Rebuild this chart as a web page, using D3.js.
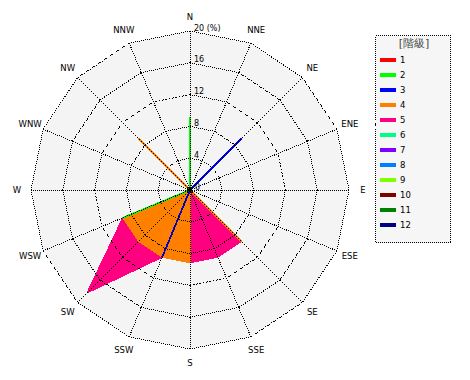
<!DOCTYPE html>
<html><head><meta charset="utf-8">
<script src="https://cdn.jsdelivr.net/npm/d3@7"></script>
<style>body{margin:0;background:#fff}svg{display:block}text{font-family:"DejaVu Sans",sans-serif}</style>
</head><body><script>
const directions = ["N","NNE","NE","ENE","E","ESE","SE","SSE","S","SSW","SW","WSW","W","WNW","NW","NNW"];
const classes = ["1","2","3","4","5","6","7","8","9","10","11","12"];
const classColors = ["#ff0000","#00ff00","#0000ff","#ff8000","#ff0080","#00ff80","#8000ff","#0080ff","#80ff00","#800000","#008000","#000080"];
const ringTicks = [4,8,12,16,20];
const tickLabels = ["4","8","12","16","20 (%)"];
// frequency (%) of each class, by direction (N, NNE, ... NNW)
const class1  = [0,0,0,0,0,0,0,0,0,0,0,0,0,0,0,0];
const class2  = [9.1,0,0,0,0,0,0,0,0,0,0,9.1,0,0,0,0];
const class3  = [0,0,9.1,0,0,0,0,0,0,9.1,0,0,0,0,0,0];
const class4  = [0,0,0,0,0,0,9.1,0,9.1,0,9.1,0,0,0,9.1,0];
const class5  = [0,0,0,0,0,0,0,9.1,0,0,9.1,0,0,0,0,0];
const class6  = [0,0,0,0,0,0,0,0,0,0,0,0,0,0,0,0];
const class7  = [0,0,0,0,0,0,0,0,0,0,0,0,0,0,0,0];
const class8  = [0,0,0,0,0,0,0,0,0,0,0,0,0,0,0,0];
const class9  = [0,0,0,0,0,0,0,0,0,0,0,0,0,0,0,0];
const class10 = [0,0,0,0,0,0,0,0,0,0,0,0,0,0,0,0];
const class11 = [0,0,0,0,0,0,0,0,0,0,0,0,0,0,0,0];
const class12 = [0,0,0,0,0,0,0,0,0,0,0,0,0,0,0,0];
const classValues = [class1,class2,class3,class4,class5,class6,class7,class8,class9,class10,class11,class12];

const W = 470, H = 380, cx = 190, cy = 190;
const svg = d3.select("body").append("svg").attr("width", W).attr("height", H);
const g = svg.append("g").attr("transform", `translate(${cx},${cy})`);

const r = d3.scaleLinear().domain([0, 20]).range([0, 159]);
const ang = d3.scaleLinear().domain([0, directions.length]).range([0, 2 * Math.PI]);

const table = directions.map((d, i) => {
  const row = {dir: d};
  classes.forEach((c, k) => row[c] = classValues[k][i]);
  return row;
});
const series = d3.stack().keys(classes)(table);

const radialLine = d3.lineRadial().angle((d, i) => ang(i)).radius(d => r(d)).curve(d3.curveLinearClosed);
const pt = (v, i) => [r(v) * Math.sin(ang(i)), -r(v) * Math.cos(ang(i))];

// background
g.append("path").attr("d", radialLine(directions.map(() => 20))).attr("fill", "#f4f4f4").attr("stroke", "none");

// data polygons (cumulative), highest class first
series.slice().reverse().forEach(s => {
  const k = classes.indexOf(s.key);
  g.append("path")
    .attr("d", radialLine(s.map(p => p[1])))
    .attr("fill", classColors[k])
    .attr("stroke", classColors[k])
    .attr("stroke-width", 1.8)
    .attr("stroke-linejoin", "round")
    .attr("shape-rendering", "crispEdges");
});

// dotted segment: one dot every other pixel along the major axis
function dotted(p1, p2) {
  const dx = p2[0] - p1[0], dy = p2[1] - p1[1], len = Math.hypot(dx, dy);
  const per = 2 * len / Math.max(Math.abs(dx), Math.abs(dy));
  g.append("line")
    .attr("x1", p1[0]).attr("y1", p1[1]).attr("x2", p2[0]).attr("y2", p2[1])
    .attr("stroke", "#000").attr("stroke-width", 1)
    .attr("stroke-dasharray", `${per / 2},${per / 2}`).attr("shape-rendering", "crispEdges");
}
// grid rings
ringTicks.forEach(t => {
  directions.forEach((d, i) => dotted(pt(t, i), pt(t, (i + 1) % directions.length)));
});
// spokes
directions.forEach((d, i) => dotted([0, 0], pt(20, i)));

// center dot
g.append("circle").attr("r", 2.2).attr("fill", "#000");

// tick labels
g.append("text").attr("x", 5).attr("y", 0).attr("font-size", 8).attr("fill", "#000").text("0");
ringTicks.forEach((t, i) => {
  g.append("text").attr("x", 4).attr("y", -r(t) - 0.5).attr("font-size", 8).attr("fill", "#000").text(tickLabels[i]);
});

// direction labels
directions.forEach((d, i) => {
  const a = ang(i), lr = 173;
  g.append("text")
    .attr("x", lr * Math.sin(a)).attr("y", -lr * Math.cos(a))
    .attr("text-anchor", "middle").attr("dominant-baseline", "central")
    .attr("font-size", 8.5).attr("fill", "#000").text(d);
});

// legend
const lg = svg.append("g");
lg.append("rect").attr("x", 375.5).attr("y", 35.5).attr("width", 75).attr("height", 207)
  .attr("fill", "#f6f6f6").attr("stroke", "#000").attr("stroke-dasharray", "1,1").attr("shape-rendering", "crispEdges");
lg.append("text").attr("x", 414).attr("y", 47).attr("text-anchor", "middle")
  .attr("font-family", "'Noto Sans CJK JP'").attr("font-size", 11).attr("fill", "#444").text("[階級]");
classes.forEach((c, k) => {
  lg.append("rect").attr("x", 380).attr("y", 57.5 + 15 * k).attr("width", 16).attr("height", 4.5)
    .attr("fill", classColors[k]).attr("shape-rendering", "crispEdges");
  lg.append("text").attr("x", 400).attr("y", 62.5 + 15 * k).attr("font-size", 8.5).attr("fill", "#000").text(c);
});
</script></body></html>
